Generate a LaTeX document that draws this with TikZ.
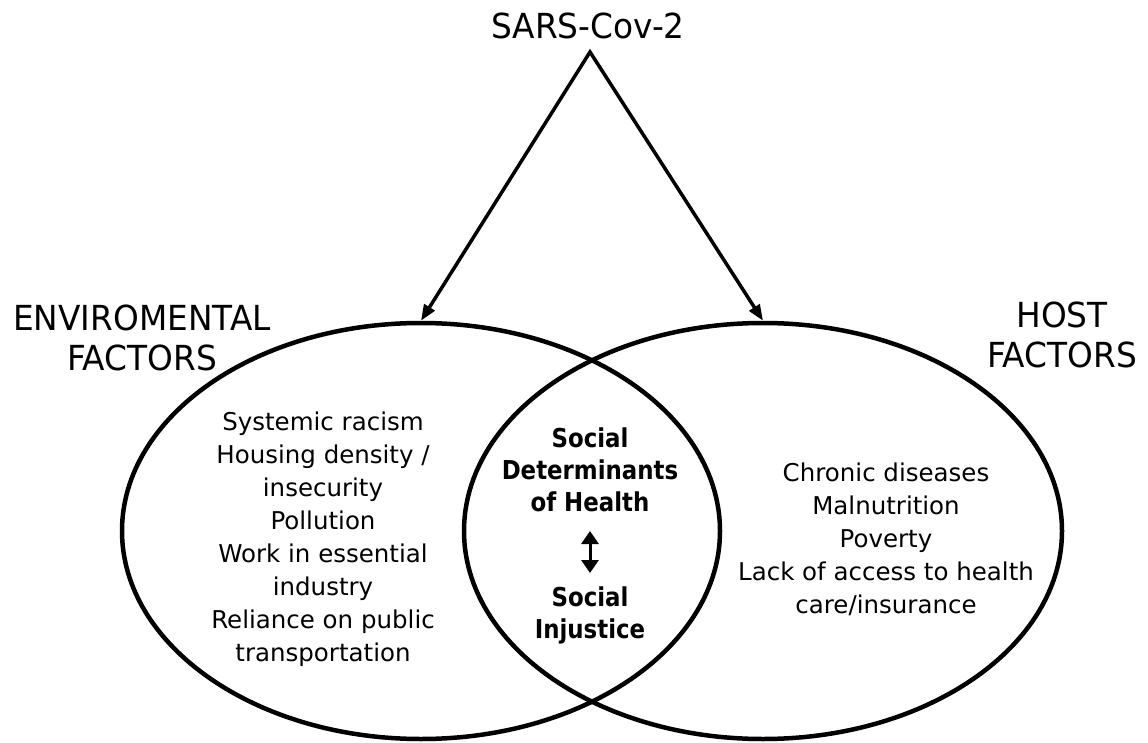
\documentclass[tikz,border=0pt]{standalone}
\usepackage{fontspec}
\setmainfont{DejaVu Sans}
\newfontfamily\headfont{DejaVu Sans}[FakeStretch=0.95]
\newfontfamily\midfont{DejaVu Sans}[FakeStretch=0.88]
\usetikzlibrary{shapes.geometric,arrows.meta}
\begin{document}
\begin{tikzpicture}[x=1pt,y=-1pt,
  venn/.style={draw=black, line width=4.5pt, ellipse, minimum width=598pt, minimum height=416pt, inner sep=0pt},
  headtxt/.style={font=\headfont\fontsize{34.5}{40}\selectfont, align=center, anchor=base, inner sep=0pt},
  bodytxt/.style={font=\fontsize{24.5}{33}\selectfont, align=center, anchor=base, inner sep=0pt},
  midtxt/.style={font=\midfont\bfseries\fontsize{26}{32}\selectfont, align=center, anchor=base, inner sep=0pt},
  arr/.style={{Triangle[length=16pt,width=12pt]}-{Triangle[length=16pt,width=12pt]}, line width=3.5pt, line join=miter},
  dbl/.style={{Triangle[length=13pt,width=17pt]}-{Triangle[length=13pt,width=17pt]}, line width=3pt}
]
\fill[white] (0,0) rectangle (1148,743);
\useasboundingbox (0,0) rectangle (1148,743);

\node[venn] (env) at (421,531) {};
\node[venn] (host) at (763,531) {};

\node[headtxt] (sars) at (588,39) {SARS-Cov-2};
\coordinate (apex) at (590,52);
\draw[arr] (env.north) -- (apex) -- (host.north);

\node[headtxt] (envlab) at (142,370) {ENVIROMENTAL\\FACTORS};
\node[headtxt] (hostlab) at (1062,367) {HOST\\FACTORS};

\node[bodytxt] (envtxt) at (323,661) {Systemic racism\\Housing density /\\insecurity\\Pollution\\Work in essential\\industry\\Reliance on public\\transportation};

\node[midtxt] (sdh) at (590,511) {Social\\Determinants\\of Health};
\node[midtxt] (inj) at (590,638) {Social\\Injustice};
\coordinate (da) at (590,531);
\coordinate (db) at (590,573);
\draw[dbl] (da) -- (db);

\node[bodytxt] (hosttxt) at (886,613) {Chronic diseases\\Malnutrition\\Poverty\\Lack of access to health\\care/insurance};
\end{tikzpicture}
\end{document}
